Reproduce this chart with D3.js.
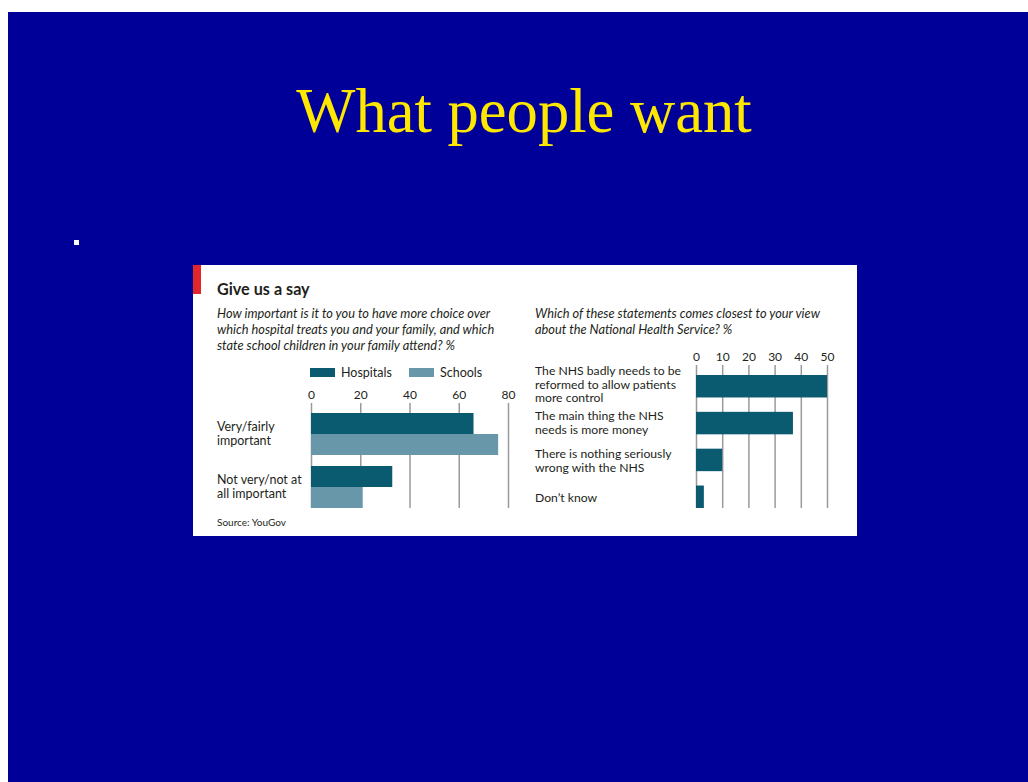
<!DOCTYPE html>
<html>
<head>
<meta charset="utf-8">
<script src="https://cdn.jsdelivr.net/npm/d3@7"></script>
<style>
  html, body { margin: 0; padding: 0; background: #ffffff; }
  svg { display: block; }
  .lbl { font-family: Lato, "Open Sans", sans-serif; fill: #231f20; }
</style>
</head>
<body>
<svg id="slide" width="1028" height="782"></svg>
<script>
// ---- data ----
const slideTitle = "What people want";
const chartTitle = "Give us a say";
const leftQuestion = [
  "How important is it to you to have more choice over",
  "which hospital treats you and your family, and which",
  "state school children in your family attend? %"
];
const rightQuestion = [
  "Which of these statements comes closest to your view",
  "about the National Health Service? %"
];
const seriesNames = ["Hospitals", "Schools"];
const leftCategories = [
  ["Very/fairly", "important"],
  ["Not very/not at", "all important"]
];
const hospitals = [66, 33];
const schools = [76, 21];
const leftTicks = [0, 20, 40, 60, 80];

const rightCategories = [
  ["The NHS badly needs to be", "reformed to allow patients", "more control"],
  ["The main thing the NHS", "needs is more money"],
  ["There is nothing seriously", "wrong with the NHS"],
  ["Don\u2019t know"]
];
const rightValues = [50, 37, 10, 3];
const rightTicks = [0, 10, 20, 30, 40, 50];
const sourceText = "Source: YouGov";

// ---- styles ----
const slideBlue = "#000099";
const titleYellow = "#ffe800";
const hospColor = "#0a5a70";
const schoolColor = "#6897aa";
const gridColor = "#9a9a9a";

const svg = d3.select("#slide");

// slide background
svg.append("rect").attr("x", 8).attr("y", 12).attr("width", 1020).attr("height", 770)
  .attr("fill", slideBlue);

svg.append("text")
  .attr("x", 524).attr("y", 132)
  .attr("text-anchor", "middle")
  .attr("font-family", "'Liberation Serif', 'Times New Roman', serif")
  .attr("font-size", 62.6)
  .attr("fill", titleYellow)
  .text(slideTitle);

// bullet
svg.append("rect").attr("x", 74).attr("y", 240).attr("width", 5).attr("height", 5).attr("fill", "#ffffff");

// chart panel
const panel = svg.append("g");
panel.append("rect").attr("x", 193).attr("y", 265).attr("width", 664).attr("height", 271).attr("fill", "#ffffff");
panel.append("rect").attr("x", 193).attr("y", 265).attr("width", 8).attr("height", 29).attr("fill", "#e3262b");

panel.append("text").attr("class", "lbl")
  .attr("x", 217).attr("y", 295)
  .attr("font-size", 16.2).attr("font-weight", "bold")
  .text(chartTitle);

function multiline(g, lines, x, y, lh, size, italic) {
  const t = g.append("text").attr("class", "lbl")
    .attr("x", x).attr("y", y).attr("font-size", size);
  if (italic) t.attr("font-style", "italic");
  t.selectAll("tspan").data(lines).join("tspan")
    .attr("x", x).attr("dy", (d, i) => i === 0 ? 0 : lh)
    .text(d => d);
  return t;
}

multiline(panel, leftQuestion, 217, 318, 16, 12.8, true);
multiline(panel, rightQuestion, 535, 318, 16, 12.8, true);

// ---- left chart ----
const xL = d3.scaleLinear().domain([0, 80]).range([311, 508]);
const yL = d3.scaleBand().domain(d3.range(leftCategories.length)).range([413, 508]).paddingInner(11 / 53);
const ySub = d3.scaleBand().domain(seriesNames).range([0, yL.bandwidth()]);

const gridTopL = 403;
const axL = panel.append("g").attr("transform", `translate(0,${gridTopL})`)
  .call(d3.axisTop(xL).tickValues(leftTicks).tickSize(-(508 - gridTopL)).tickPadding(4));
axL.select(".domain").remove();
axL.selectAll(".tick line").attr("stroke", gridColor).attr("stroke-width", 1.5);
axL.selectAll(".tick text").attr("class", "lbl").attr("font-size", 12);

// legend
const legend = panel.append("g");
const legendX = [310, 409];
seriesNames.forEach((name, i) => {
  legend.append("rect").attr("x", legendX[i]).attr("y", 368).attr("width", 25).attr("height", 9)
    .attr("fill", i === 0 ? hospColor : schoolColor);
  legend.append("text").attr("class", "lbl").attr("x", legendX[i] + 31).attr("y", 377)
    .attr("font-size", 12.5).text(name);
});

const leftRows = leftCategories.map((c, i) => ({ i, c, vals: [hospitals[i], schools[i]] }));
const rowsL = panel.append("g").selectAll("g").data(leftRows).join("g")
  .attr("transform", d => `translate(0,${yL(d.i)})`);
rowsL.selectAll("rect").data(d => d.vals.map((v, k) => ({ v, s: seriesNames[k] }))).join("rect")
  .attr("x", xL(0)).attr("y", d => ySub(d.s))
  .attr("width", d => xL(d.v) - xL(0)).attr("height", ySub.bandwidth())
  .attr("fill", d => d.s === "Hospitals" ? hospColor : schoolColor);
leftRows.forEach(d => {
  multiline(panel, d.c, 217, yL(d.i) + 18, 13.5, 12.5, false);
});

panel.append("text").attr("class", "lbl").attr("x", 217).attr("y", 526)
  .attr("font-size", 10).text(sourceText);

// ---- right chart ----
const xR = d3.scaleLinear().domain([0, 50]).range([696, 827]);
const yR = d3.scaleBand().domain(d3.range(rightCategories.length)).range([375, 508]).paddingInner(0.39);

const gridTopR = 365;
const axR = panel.append("g").attr("transform", `translate(0,${gridTopR})`)
  .call(d3.axisTop(xR).tickValues(rightTicks).tickSize(-(508 - gridTopR)).tickPadding(4));
axR.select(".domain").remove();
axR.selectAll(".tick line").attr("stroke", gridColor).attr("stroke-width", 1.5);
axR.selectAll(".tick text").attr("class", "lbl").attr("font-size", 12);

panel.append("g").selectAll("rect").data(rightValues).join("rect")
  .attr("x", xR(0)).attr("y", (d, i) => yR(i))
  .attr("width", d => xR(d) - xR(0)).attr("height", yR.bandwidth())
  .attr("fill", hospColor);

const rightLabelY = [375, 420, 458, 502];
rightCategories.forEach((c, i) => {
  multiline(panel, c, 535, rightLabelY[i], 13.5, 12.2, false);
});
</script>
</body>
</html>
